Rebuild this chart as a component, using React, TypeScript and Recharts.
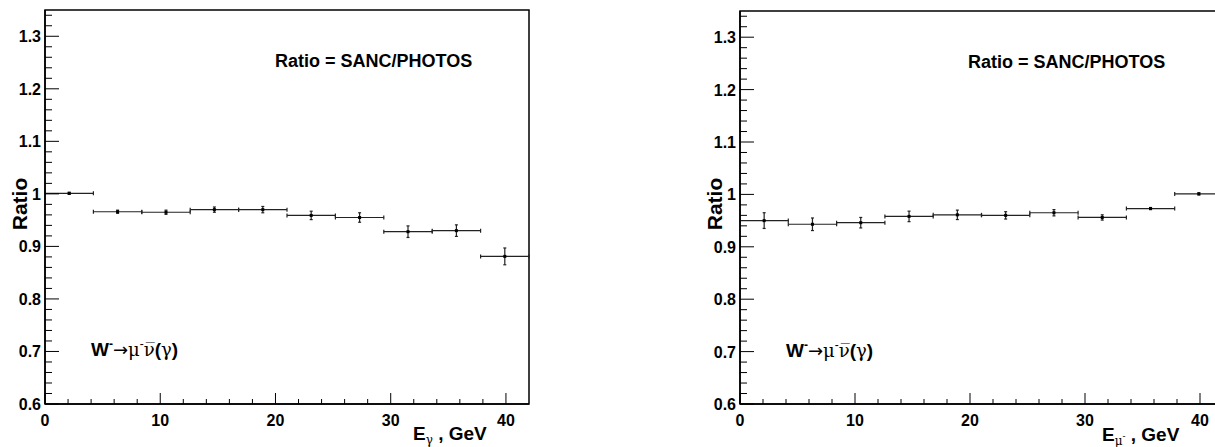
import { ScatterChart, Scatter, XAxis, YAxis, ErrorBar, ReferenceArea } from "recharts";

// bin centres in GeV (10 bins of 4.2 GeV from 0 to 42)
const binCenters = [2.1, 6.3, 10.5, 14.7, 18.9, 23.1, 27.3, 31.5, 35.7, 39.9];
const binHalfWidth = 2.1;

// E_gamma panel
const photonRatio = [1.001, 0.966, 0.965, 0.97, 0.97, 0.959, 0.955, 0.928, 0.93, 0.881];
const photonError = [0.002, 0.003, 0.004, 0.005, 0.006, 0.008, 0.009, 0.011, 0.011, 0.016];

// E_mu panel
const muonRatio = [0.95, 0.943, 0.946, 0.958, 0.961, 0.96, 0.965, 0.956, 0.973, 1.001];
const muonError = [0.015, 0.012, 0.01, 0.01, 0.009, 0.007, 0.006, 0.005, 0.002, 0.002];

const xTickValues = [0, 2, 4, 6, 8, 10, 12, 14, 16, 18, 20, 22, 24, 26, 28, 30, 32, 34, 36, 38, 40];
const xTickLabels = ["0", "10", "20", "30", "40"];
const yTickValues = Array.from({ length: 38 }, (_, i) => +(0.6 + 0.02 * i).toFixed(2));
const yTickLabels = ["0.6", "0.7", "0.8", "0.9", "1", "1.1", "1.2", "1.3"];

const FONT = "'Liberation Sans', Arial, Helvetica, sans-serif";
const SERIF = "'DejaVu Serif', 'Liberation Serif', serif";

const XTick = (props: any) => {
  const { x, y, payload } = props;
  const label = String(payload.value);
  const major = xTickLabels.includes(label);
  return (
    <g>
      <line x1={x} x2={x} y1={y} y2={y - (major ? 11 : 5)} stroke="#000" strokeWidth={1} />
      {major && (
        <text x={x} y={y + 22} textAnchor="middle" fontFamily={FONT} fontWeight="bold" fontSize={16} fill="#000">
          {label}
        </text>
      )}
    </g>
  );
};

const YTick = (props: any) => {
  const { x, y, payload } = props;
  const label = String(payload.value);
  const major = yTickLabels.includes(label);
  return (
    <g>
      <line x1={x} x2={x + (major ? 14 : 7)} y1={y} y2={y} stroke="#000" strokeWidth={1} />
      {major && (
        <text x={x - 4} y={y + 6} textAnchor="end" fontFamily={FONT} fontWeight="bold" fontSize={16} fill="#000">
          {label}
        </text>
      )}
    </g>
  );
};

const marker = (p: any) => <rect x={p.cx - 1.5} y={p.cy - 1.5} width={3} height={3} fill="#000" />;

function RatioPanel({ left, top, right, ratio, error }: any) {
  const data = binCenters.map((x, i) => ({ x, y: ratio[i], xErr: binHalfWidth, yErr: error[i] }));
  return (
    <div style={{ position: "absolute", left, top: 0 }}>
      <ScatterChart width={540} height={447} margin={{ top, right, bottom: 0, left: 0 }}>
        <XAxis
          type="number"
          dataKey="x"
          domain={[0, 42]}
          ticks={xTickValues}
          interval={0}
          tickSize={0}
          tickMargin={0}
          tick={XTick}
          height={43}
          axisLine={{ stroke: "#000", strokeWidth: 1.5 }}
          allowDataOverflow
        />
        <YAxis
          type="number"
          dataKey="y"
          domain={[0.6, 1.35]}
          ticks={yTickValues}
          interval={0}
          tickSize={0}
          tickMargin={0}
          tick={YTick}
          width={45}
          axisLine={{ stroke: "#000", strokeWidth: 1.5 }}
          allowDataOverflow
        />
        <ReferenceArea x1={0} x2={42} y1={0.6} y2={1.35} fill="none" stroke="#000" strokeWidth={1.5} />
        <Scatter data={data} shape={marker} isAnimationActive={false}>
          <ErrorBar dataKey="xErr" direction="x" width={2} stroke="#222" strokeWidth={1.2} isAnimationActive={false} />
          <ErrorBar dataKey="yErr" direction="y" width={1.5} stroke="#222" strokeWidth={1.2} isAnimationActive={false} />
        </Scatter>
      </ScatterChart>
    </div>
  );
}

function ProcessLabel({ x, y }: { x: number; y: number }) {
  return (
    <text x={x} y={y} fontSize={19} fill="#000" fontFamily={FONT}>
      <tspan fontWeight="bold">W</tspan>
      <tspan fontSize={12} dy={-8} fontWeight="bold">-</tspan>
      <tspan dy={8} fontFamily="'DejaVu Sans', sans-serif" fontSize={18}>→</tspan>
      <tspan fontFamily={SERIF} fontSize={18}>μ</tspan>
      <tspan fontSize={12} dy={-8}>-</tspan>
      <tspan dy={8} fontFamily={SERIF} fontSize={18}>{"ν\u0305"}</tspan>
      <tspan fontWeight="bold">(</tspan>
      <tspan fontFamily={SERIF} fontSize={18}>γ</tspan>
      <tspan fontWeight="bold">)</tspan>
    </text>
  );
}

export default function App() {
  return (
    <div style={{ position: "absolute", left: 0, top: 0, width: 1215, height: 447, overflow: "hidden", background: "#fff" }}>
      <RatioPanel left={0} top={10} right={11} ratio={photonRatio} error={photonError} />
      <RatioPanel left={695} top={11} right={12} ratio={muonRatio} error={muonError} />
      <svg width={1215} height={447} style={{ position: "absolute", left: 0, top: 0, pointerEvents: "none" }}>
        {/* left panel texts */}
        <text x={27} y={204} transform="rotate(-90 27 204)" textAnchor="middle" fontFamily={FONT} fontWeight="bold" fontSize={21}>
          Ratio
        </text>
        <text x={275} y={67} fontFamily={FONT} fontWeight="bold" fontSize={18}>
          Ratio = SANC/PHOTOS
        </text>
        <ProcessLabel x={91} y={356} />
        <text x={413} y={440} fontFamily={FONT} fontWeight="bold" fontSize={19}>
          E<tspan fontSize={12} dy={4} fontWeight="normal" fontFamily={SERIF}>γ</tspan>
          <tspan dy={-4}> , GeV</tspan>
        </text>

        {/* right panel texts */}
        <text x={722} y={204} transform="rotate(-90 722 204)" textAnchor="middle" fontFamily={FONT} fontWeight="bold" fontSize={21}>
          Ratio
        </text>
        <text x={968} y={68} fontFamily={FONT} fontWeight="bold" fontSize={18}>
          Ratio = SANC/PHOTOS
        </text>
        <ProcessLabel x={786} y={357} />
        <text x={1102} y={441} fontFamily={FONT} fontWeight="bold" fontSize={19}>
          E<tspan fontSize={12} dy={4} fontWeight="normal" fontFamily={SERIF}>μ</tspan>
          <tspan fontSize={9} dy={-6} fontWeight="normal">-</tspan>
          <tspan dy={2}> , GeV</tspan>
        </text>
      </svg>
    </div>
  );
}
